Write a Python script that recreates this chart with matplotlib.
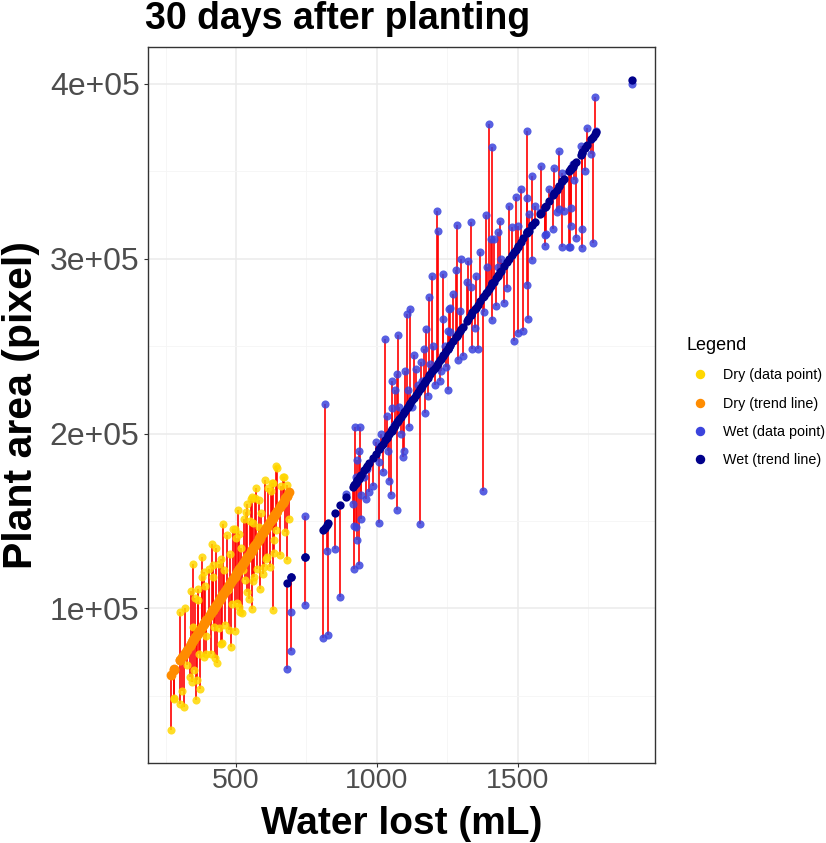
import numpy as np
import matplotlib
matplotlib.use("Agg")
import matplotlib.pyplot as plt
from matplotlib.lines import Line2D
from matplotlib.ticker import FuncFormatter, MultipleLocator

plt.rcParams['font.family'] = ['Liberation Sans', 'DejaVu Sans']

# dry plants: water lost (mL) and plant area (thousand pixels)
dry_water = [269, 281, 279, 302, 302, 315, 326, 349, 358, 349, 352, 373, 366, 380,
             388, 394, 415, 417, 433, 423, 447, 455, 441, 482, 471, 496, 512, 515,
             524, 535, 539, 553, 571, 565, 583, 600, 606, 630, 628, 642, 669, 681,
             689, 636, 642, 630, 556,
             310, 320, 335, 340, 345, 355, 360, 365, 370, 378, 385, 390, 395,
             405, 410, 418, 425, 430, 438, 445, 452, 458, 462, 468, 475, 480, 486,
             490, 495, 500, 505, 508, 512, 518, 522, 528, 532, 540, 545, 548, 555,
             560, 562, 568, 575, 580, 585, 590, 596, 602, 610, 615, 620, 625, 635,
             645, 655, 660, 665, 675, 680]
dry_area_k = [30.3, 48.4, 49, 97.9, 45.5, 43.6, 67.4, 125.5, 47.4, 89.3, 64.6, 54.1, 111.3, 129.7,
              120.7, 74.1, 136.6, 124.6, 68.8, 89.3, 79.8, 148.4, 125.5, 77.9, 110.3, 145.5, 142.7, 97.9,
              121.7, 155, 109.3, 162.7, 169, 117.9, 146.5, 123.6, 128.4, 98.9, 171.6, 144.6, 175, 127.8,
              151.3, 138.9, 181.7, 172, 163.6,
              53, 100, 61, 110, 58, 106, 59, 105, 74, 118, 72, 113, 84,
              122.5, 73.8, 117.8, 71.5, 134.7, 88.7, 128.5, 80.2, 121.7, 90.7, 142.2, 87.9, 131.1, 102.6,
              145.6, 86.9, 140.1, 103.3, 156.1, 101.1, 134.6, 97.6, 151.0, 116.0, 160.0, 105.3, 150.0, 99.7,
              149.0, 115.5, 163.0, 122.7, 161.9, 111.2, 154.4, 119.9, 173.4, 129.4, 168.6, 123.9, 167.1, 131.6,
              180.1, 130.5, 169.8, 175.0, 143.5, 170.7]

# wet plants
wet_water = [680, 695, 695, 745, 745, 810, 827, 823, 852, 870, 890, 919, 937, 931, 919,
             1008, 1044, 1050, 1073, 973, 943, 816, 922, 941, 929, 961, 925, 1028, 1076,
             1008, 1055, 1073, 1052, 1106, 1118, 1099, 1138, 1156, 1168, 1170, 1180, 1153,
             1186, 1097, 1091, 1115, 1224, 1251, 1233, 1251, 1256, 1396, 1410, 1532, 1647,
             1582, 1629, 1552, 1492, 1534, 1212, 1217, 1283, 1333, 1386, 1437, 1430, 1478,
             1499, 1538, 1579, 1596, 1596, 1625, 1658, 1682, 1647, 1197, 1236, 1280, 1324,
             1366, 1319, 1333, 1404, 1414, 1428, 1451, 1422, 1410, 1463, 1487, 1501, 1520,
             1537, 1534, 1552, 1260, 1295, 1286, 1304, 1339, 1357, 1347, 1260, 1380, 1227,
             1245, 1376, 1905, 1773, 1747, 1777, 1723, 1658, 1694, 1765, 1726, 1729, 1706,
             1688, 1686, 1599, 1638, 1664, 1690,
             955, 965, 985, 995, 1015, 1020, 1035, 1040, 1060, 1065, 1080, 1085, 1110,
             1125, 1130, 1145, 1160, 1175, 1190, 1200, 1205, 1240, 1270, 1300, 1350,
             1390, 1440, 1470, 1510, 1560, 1610, 1700, 1740, 1760, 915, 925, 935, 945]
wet_area_k = [65.5, 97.9, 75.6, 153, 101.7, 83, 84.6, 133, 134, 106.5, 165.5, 122.7, 124.6, 138.9, 147,
              149, 173, 164.6, 156, 166.5, 151, 216.6, 204, 204, 185, 162.7, 146.5, 254, 256.6,
              183.6, 230.3, 234, 214.7, 268.4, 271, 236, 237, 240.7, 248.4, 211.6, 221.7, 148.4,
              278, 190, 186.5, 203.6, 230.3, 224.6, 265.5, 258.8, 271, 377, 363.6, 372.7, 361.7,
              353, 352, 347.4, 335, 334.7, 327, 316, 319, 320.7, 325, 321.7, 315, 317.9,
              318.9, 325.5, 326.4, 313.7, 307.4, 317, 306.4, 306.4, 328.4, 290.3, 291.3, 293.5, 298.5,
              303.6, 286.5, 283.6, 311.3, 311.3, 295, 274.5, 273, 265, 283, 252.7, 257.3, 258.4,
              265.5, 285, 299.2, 271.8, 269.9, 242, 244.6, 248.4, 248.4, 260.4, 258, 269.4, 236,
              237.9, 167, 400, 392.6, 374.7, 373, 364.6, 349, 354, 308.7, 306, 317, 312,
              318.9, 306.4, 314, 326.4, 327, 329,
              175, 180, 170, 195, 200, 178, 210, 190, 205, 225, 215, 200, 225,
              215, 245, 228, 230, 260, 240, 250, 228, 250, 280, 300, 290,
              295, 300, 330, 340, 330, 340, 345, 350, 360, 160, 175, 190, 165]

dry_x = np.array(dry_water, dtype=float)
dry_y = np.array(dry_area_k) * 1000
wet_x = np.array(wet_water, dtype=float)
wet_y = np.array(wet_area_k) * 1000

# linear trend for each group
dry_fit = np.polyval(np.polyfit(dry_x, dry_y, 1), dry_x)
wet_fit = np.polyval(np.polyfit(wet_x, wet_y, 1), wet_x)

fig = plt.figure(figsize=(8.26, 8.43), dpi=100)
ax = fig.add_axes([0.179, 0.095, 0.614, 0.849])

# residual segments
ax.vlines(dry_x, dry_y, dry_fit, color='red', lw=1.2, zorder=3)
ax.vlines(wet_x, wet_y, wet_fit, color='red', lw=1.2, zorder=3)

ax.scatter(dry_x, dry_y, s=34, color='#FFD700', alpha=0.85, lw=0, zorder=4)
ax.scatter(wet_x, wet_y, s=34, color='#3B44DD', alpha=0.85, lw=0, zorder=4)
ax.scatter(dry_x, dry_fit, s=50, color='#FF8C00', lw=0, zorder=5)
ax.scatter(wet_x, wet_fit, s=36, color='#00008B', lw=0, zorder=5)

ax.margins(0.05)
ax.xaxis.set_major_locator(MultipleLocator(500))
ax.xaxis.set_minor_locator(MultipleLocator(250))
ax.yaxis.set_major_locator(MultipleLocator(100000))
ax.yaxis.set_minor_locator(MultipleLocator(50000))
ax.yaxis.set_major_formatter(FuncFormatter(lambda v, p: f"{v:.0e}"))

ax.grid(which='major', color='#EBEBEB', lw=1.1, zorder=0)
ax.grid(which='minor', color='#F5F5F5', lw=0.6, zorder=0)
ax.set_axisbelow(True)
for s in ax.spines.values():
    s.set_color('#333333')
    s.set_linewidth(1.0)
ax.tick_params(which='major', length=3, width=0.8, color='#333333',
               labelcolor='#4D4D4D')
ax.tick_params(axis='x', labelsize=20.5, pad=1)
ax.tick_params(axis='y', labelsize=23, pad=3)
ax.tick_params(which='minor', length=0)

fig.text(0.486, 1 - 834.5 / 843, 'Water lost (mL)', fontsize=28, fontweight='bold',
         ha='center', va='baseline')
fig.text(0.002, 0.519, 'Plant area (pixel)', fontsize=29.5, fontweight='bold',
         rotation=90, ha='left', va='center')
fig.text(0.1755, 0.9656, '30 days after planting', fontsize=27, fontweight='bold',
         ha='left', va='baseline')

handles = [Line2D([], [], marker='o', ls='', color=c, markersize=5.8)
           for c in ['#FFD700', '#FF8C00', '#3B44DD', '#00008B']]
labels = ['Dry (data point)', 'Dry (trend line)', 'Wet (data point)', 'Wet (trend line)']
leg = fig.legend(handles, labels, title='Legend', loc='center left',
                 bbox_to_anchor=(0.815, 0.523), frameon=False, fontsize=10.3,
                 title_fontsize=13, labelspacing=1.0, handletextpad=0.6,
                 alignment='left')

fig.savefig('out.png', dpi=100)
